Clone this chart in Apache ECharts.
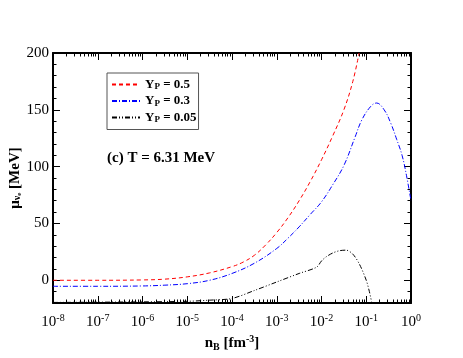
<!DOCTYPE html>
<html>
<head>
<meta charset="utf-8">
<script src="https://cdn.jsdelivr.net/npm/echarts@6/dist/echarts.min.js"></script>
<style>
  html, body { margin: 0; padding: 0; background: #fff; }
  #main { width: 463px; height: 358px; }
</style>
</head>
<body>
<div id="main"></div>
<script>
// x values are log10(n_B / fm^-3), y values are mu in MeV
var redLogN = [-8, -7, -6, -5.5, -5, -4.5, -4, -3.75, -3.5, -3.25, -3, -2.75, -2.5, -2.25, -2, -1.75, -1.5, -1.3, -1.16];
var redMu   = [0, 0, 0.3, 1, 3, 6.5, 12, 16, 22, 31, 42, 55, 70, 87, 106, 127, 150, 175, 200];

var blueLogN = [-8, -7, -6, -5.5, -5, -4.5, -4, -3.5, -3, -2.75, -2.5, -2.25, -2, -1.75, -1.5, -1.25, -1.1, -0.9, -0.77, -0.6, -0.45, -0.32, -0.2, -0.1, 0];
var blueMu   = [-5.3, -5.3, -5, -4.3, -3, 0, 6, 15, 28, 37, 47, 58, 69, 84, 101, 126, 141, 153, 156, 150, 138, 124, 110, 92, 70];

var blackLogN = [-8, -6, -5, -4.5, -4, -3.5, -3, -2.5, -2.11, -2.0, -1.9, -1.75, -1.6, -1.45, -1.3, -1.15, -1.0, -0.93, -0.88];
var blackMu   = [-19.5, -19, -18.5, -17.5, -16, -9, -1.5, 6, 11.5, 17, 20.5, 24, 26, 26.5, 23, 14, 0, -10, -19];

var xMajor = [-8, -7, -6, -5, -4, -3, -2, -1, 0];
var yMajor = [0, 50, 100, 150, 200];

var xMinor = [];
for (var d = -8; d < 0; d++) {
  for (var k = 2; k <= 9; k++) xMinor.push(d + Math.log10(k));
}

function pairs(xs, ys) {
  return xs.map(function (x, i) { return [x, ys[i]]; });
}

var serif = 'Liberation Serif';
var chart = echarts.init(document.getElementById('main'));

function xAx(pos, major, showLine) {
  return {
    type: 'value', position: pos, min: -8, max: 0, interval: 1,
    axisLine: { show: showLine, onZero: false, lineStyle: { color: '#000', width: 2 } },
    axisTick: { show: true, inside: true, length: major ? 7 : 3.5,
      customValues: major ? xMajor : xMinor, lineStyle: { color: '#000' } },
    axisLabel: { show: major && pos === 'bottom', margin: 10,
      formatter: function (v) { return '{b|10}{sup|' + Math.round(v) + '}'; },
      rich: {
        b: { fontFamily: serif, fontSize: 15, color: '#000' },
        sup: { fontFamily: serif, fontSize: 10, color: '#000', verticalAlign: 'top', padding: [0, 0, 8, 0] }
      } },
    splitLine: { show: false }
  };
}

function yAx(pos, major, showLine) {
  var tick = { show: true, inside: true, length: major ? 7 : 3.5, lineStyle: { color: '#000' } };
  if (major) tick.customValues = yMajor;
  return {
    type: 'value', position: pos, min: -20, max: 200, interval: 10,
    axisLine: { show: showLine, onZero: false, lineStyle: { color: '#000', width: 2 } },
    axisTick: tick,
    axisLabel: { show: major && pos === 'left', margin: 4,
      fontFamily: serif, fontSize: 15, color: '#000',
      formatter: function (v) { return yMajor.indexOf(v) >= 0 ? String(v) : ''; } },
    splitLine: { show: false }
  };
}

var xAxes = [xAx('bottom', true, true), xAx('bottom', false, false), xAx('top', true, true), xAx('top', false, false)];
xAxes[0].name = '{b|n}{sub|B}{b| [fm}{sup|-3}{b|]}';
xAxes[0].nameLocation = 'middle';
xAxes[0].nameGap = 24;
xAxes[0].nameTextStyle = {
  rich: {
    b: { fontFamily: serif, fontSize: 15, fontWeight: 'bold', color: '#000' },
    sub: { fontFamily: serif, fontSize: 10, fontWeight: 'bold', color: '#000', verticalAlign: 'bottom', padding: [8, 0, 0, 0] },
    sup: { fontFamily: serif, fontSize: 10, fontWeight: 'bold', color: '#000', verticalAlign: 'top', padding: [0, 0, 8, 0] }
  }
};

var yAxes = [yAx('left', true, true), yAx('left', false, false), yAx('right', true, true), yAx('right', false, false)];

var legendRich = {
  b: { fontFamily: serif, fontSize: 13, fontWeight: 'bold', color: '#000' },
  sub: { fontFamily: serif, fontSize: 9, fontWeight: 'bold', color: '#000', verticalAlign: 'bottom', padding: [5, 0, 0, 0] }
};

var option = {
  animation: false,
  backgroundColor: '#fff',
  grid: { left: 53, right: 52, top: 53, bottom: 55, containLabel: false, outerBoundsMode: 'none' },
  xAxis: xAxes,
  yAxis: yAxes,
  legend: {
    orient: 'vertical', left: 107, top: 73,
    itemWidth: 28, itemHeight: 10, itemGap: 3,
    padding: [5, 2, 5, 4],
    borderColor: '#555', borderWidth: 1,
    itemStyle: { opacity: 0 },
    data: ['Y_P = 0.5', 'Y_P = 0.3', 'Y_P = 0.05'],
    formatter: function (name) {
      return '{b|Y}{sub|P}{b|' + name.slice(3) + '}';
    },
    textStyle: { rich: legendRich }
  },
  graphic: [{
    type: 'text', left: 107, top: 151,
    style: { text: '(c) T = 6.31 MeV', fontFamily: serif, fontSize: 15, fontWeight: 'bold', fill: '#000' }
  }, {
    // y axis title, rotated
    type: 'text', x: 15, y: 178, rotation: Math.PI / 2,
    style: {
      text: '{b|\u03bc}{sub|\u03bd}{sub2|e}{b| [MeV]}',
      align: 'center', verticalAlign: 'middle',
      rich: {
        b: { fontFamily: serif, fontSize: 15, fontWeight: 'bold', fill: '#000' },
        sub: { fontFamily: serif, fontSize: 10, fontWeight: 'bold', fill: '#000', verticalAlign: 'bottom', padding: [4, 0, 0, 0] },
        sub2: { fontFamily: serif, fontSize: 7, fontWeight: 'bold', fill: '#000', verticalAlign: 'bottom', padding: [7, 0, 0, 0] }
      }
    }
  }],
  series: [
    { name: 'Y_P = 0.5', type: 'line', data: pairs(redLogN, redMu), showSymbol: false, symbol: 'none',
      smooth: 0.4,
      lineStyle: { color: '#ff0000', width: 1, type: [4, 3] }, itemStyle: { color: '#ff0000' } },
    { name: 'Y_P = 0.3', type: 'line', data: pairs(blueLogN, blueMu), showSymbol: false, symbol: 'none',
      smooth: 0.4,
      lineStyle: { color: '#0000ff', width: 1, type: [5, 2, 1, 2] }, itemStyle: { color: '#0000ff' } },
    { name: 'Y_P = 0.05', type: 'line', data: pairs(blackLogN, blackMu), showSymbol: false, symbol: 'none',
      smooth: 0.3,
      lineStyle: { color: '#000', width: 1, type: [5, 2, 1, 2, 1, 2] }, itemStyle: { color: '#000' } }
  ]
};

chart.setOption(option);
</script>
</body>
</html>
